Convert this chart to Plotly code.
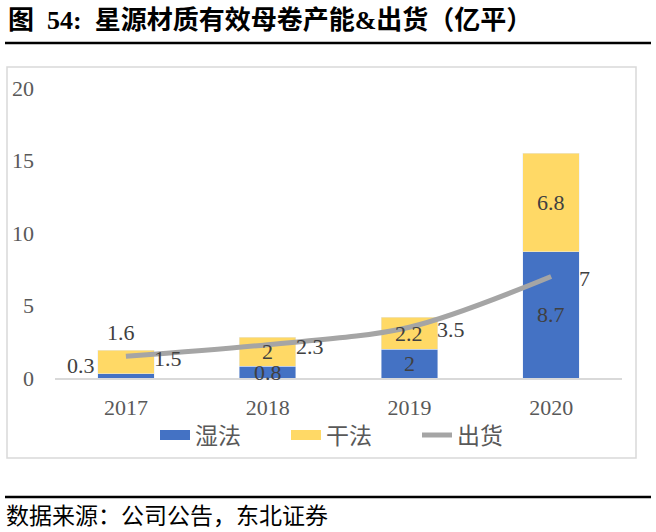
import plotly.graph_objects as go

years = ["2017", "2018", "2019", "2020"]
wet = [0.3, 0.8, 2, 8.7]
dry = [1.6, 2, 2.2, 6.8]
shipment = [1.5, 2.3, 3.5, 7]
y_ticks = [0, 5, 10, 15, 20]

BLUE = "#4472C4"
YELLOW = "#FFD966"
GRAY = "#A5A5A5"
SERIF = "Liberation Serif, Times New Roman, serif"
CJK = "Noto Sans CJK SC, sans-serif"
TITLE_FONT = "Liberation Serif, Noto Sans CJK SC"

W, H = 656, 532
PL, PR, PT, PB = 55, 622, 88, 378  # plot area in page pixels
L, R, T, B = PL, W - PR, PT, H - PB
pw, ph = PR - PL, PB - PT


def px(x):
    return (x - PL) / pw


def py(y):
    return (PB - y) / ph


fig = go.Figure()
fig.add_trace(go.Bar(x=years, y=wet, name="湿法", marker_color=BLUE, width=0.4, showlegend=False))
fig.add_trace(go.Bar(x=years, y=dry, name="干法", marker_color=YELLOW, width=0.4, showlegend=False))
fig.add_trace(go.Scatter(x=years, y=shipment, name="出货", mode="lines",
                         line=dict(color=GRAY, width=5, shape="spline", smoothing=0.9),
                         showlegend=False))
# legend entries
fig.add_trace(go.Scatter(x=[None], y=[None], mode="lines", name="湿法",
                         line=dict(color=BLUE, width=10)))
fig.add_trace(go.Scatter(x=[None], y=[None], mode="lines", name="干法",
                         line=dict(color=YELLOW, width=10)))
fig.add_trace(go.Scatter(x=[None], y=[None], mode="lines", name="出货",
                         line=dict(color=GRAY, width=5)))

lab_font = dict(family=SERIF, size=22, color="#404040")
ann = []
for i, yr in enumerate(years):
    # wet labels
    if i == 0:
        ann.append(dict(x=i, y=0, text=str(wet[i]), xanchor="right", yanchor="bottom",
                        xshift=-29, yshift=-2, showarrow=False, font=lab_font))
    else:
        ann.append(dict(x=i, y=wet[i] / 2, text=str(wet[i]), xanchor="center", yanchor="middle",
                        showarrow=False, font=lab_font))
    # dry labels
    if i == 0:
        ann.append(dict(x=i, y=wet[i] + dry[i], text=str(dry[i]), xanchor="center", yanchor="bottom",
                        xshift=-5, yshift=3, showarrow=False, font=lab_font))
    else:
        ann.append(dict(x=i, y=wet[i] + dry[i] / 2, text=str(dry[i]), xanchor="center", yanchor="middle",
                        showarrow=False, font=lab_font))
    # shipment labels
    ann.append(dict(x=i, y=shipment[i], text=str(shipment[i]), xanchor="left", yanchor="middle",
                    xshift=26, yshift=-2, showarrow=False, font=lab_font))

ann.append(dict(xref="paper", yref="paper", x=px(6), y=py(20), xanchor="left", yanchor="middle",
                text="<b>图  54:  星源材质有效母卷产能&出货（亿平）</b>", showarrow=False,
                font=dict(family=TITLE_FONT, size=26, color="#000000")))
ann.append(dict(xref="paper", yref="paper", x=px(4), y=py(516), xanchor="left", yanchor="middle",
                text="数据来源：公司公告，东北证券", showarrow=False,
                font=dict(family=TITLE_FONT, size=23, color="#000000")))

shapes = [
    dict(type="rect", xref="paper", yref="paper", x0=px(7), x1=px(636), y0=py(458), y1=py(67),
         line=dict(color="#D9D9D9", width=1.5), fillcolor="rgba(0,0,0,0)", layer="below"),
    dict(type="line", xref="paper", yref="paper", x0=px(5), x1=px(651), y0=py(43), y1=py(43),
         line=dict(color="#000000", width=2.5)),
    dict(type="line", xref="paper", yref="paper", x0=px(5), x1=px(651), y0=py(497), y1=py(497),
         line=dict(color="#000000", width=2.5)),
]

fig.update_layout(
    width=W, height=H,
    margin=dict(l=L, r=R, t=T, b=B, autoexpand=False),
    barmode="stack",
    plot_bgcolor="white", paper_bgcolor="white",
    annotations=ann, shapes=shapes,
    legend=dict(orientation="h", x=px(155), y=py(435), xanchor="left", yanchor="middle",
                traceorder="normal", entrywidth=86, entrywidthmode="pixels",
                font=dict(family=CJK, size=23, color="#595959"),
                bgcolor="rgba(0,0,0,0)"),
    xaxis=dict(type="category", range=[-0.5, 3.5], showline=True, linecolor="#D9D9D9", linewidth=1.5,
               showgrid=False, ticks="", tickfont=dict(family=SERIF, size=22, color="#595959"),
               ticklabelstandoff=9, fixedrange=True),
    yaxis=dict(range=[0, 20], tickvals=y_ticks, showgrid=False, zeroline=False, showline=False,
               ticks="", tickfont=dict(family=SERIF, size=22, color="#595959"),
               ticklabelstandoff=20, fixedrange=True),
)

fig.write_html("out.html", config={"displayModeBar": False},
               post_script="document.body.style.margin='0px';")
